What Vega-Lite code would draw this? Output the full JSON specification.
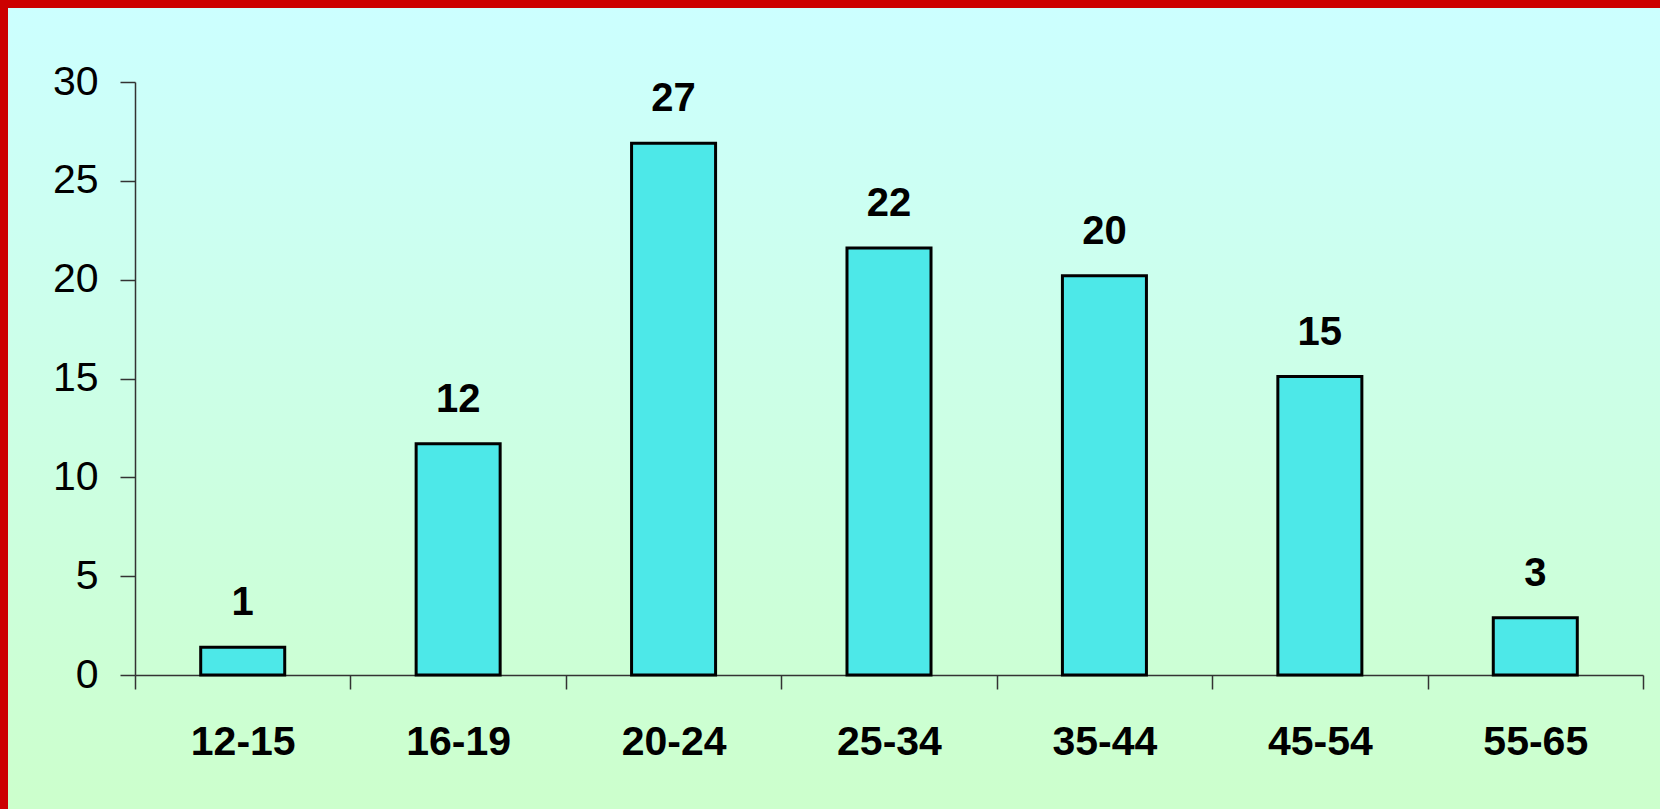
{
  "$schema": "https://vega.github.io/schema/vega-lite/v6.json",
  "width": 1652,
  "height": 801,
  "autosize": {"type": "none"},
  "padding": {"left": 8, "top": 8, "right": 0, "bottom": 0},
  "background": "#cc0000",
  "config": {
    "view": {
      "stroke": null,
      "fill": {
        "gradient": "linear",
        "x1": 0, "y1": 0, "x2": 0, "y2": 1,
        "stops": [
          {"offset": 0, "color": "#ccffff"},
          {"offset": 1, "color": "#ccffcc"}
        ]
      }
    }
  },
  "data": {
    "values": [
      {"age": "12-15", "value": 1.4, "label": "1"},
      {"age": "16-19", "value": 11.7, "label": "12"},
      {"age": "20-24", "value": 26.9, "label": "27"},
      {"age": "25-34", "value": 21.6, "label": "22"},
      {"age": "35-44", "value": 20.2, "label": "20"},
      {"age": "45-54", "value": 15.1, "label": "15"},
      {"age": "55-65", "value": 2.9, "label": "3"}
    ]
  },
  "encoding": {
    "x": {
      "field": "age",
      "type": "nominal",
      "sort": null,
      "scale": {"range": [127, 1635], "paddingInner": 0, "paddingOuter": 0},
      "axis": {
        "title": null,
        "orient": "bottom",
        "offset": -134,
        "tickBand": "extent",
        "labelAngle": 0,
        "tickSize": 14,
        "labelFontSize": 41,
        "labelFontWeight": "bold",
        "labelFont": "Liberation Sans",
        "labelColor": "#000000",
        "labelPadding": 33,
        "domainColor": "#333333",
        "tickColor": "#333333",
        "domainWidth": 1.5,
        "tickWidth": 1.5,
        "grid": false
      }
    },
    "y": {
      "field": "value",
      "type": "quantitative",
      "scale": {"domain": [0, 30], "range": [667, 74], "nice": false},
      "axis": {
        "title": null,
        "offset": -127,
        "values": [0, 5, 10, 15, 20, 25, 30],
        "tickSize": 15,
        "labelFontSize": 41,
        "labelFont": "Liberation Sans",
        "labelColor": "#000000",
        "labelPadding": 22,
        "domainColor": "#333333",
        "tickColor": "#333333",
        "domainWidth": 1.5,
        "tickWidth": 1.5,
        "grid": false
      }
    }
  },
  "layer": [
    {
      "mark": {"type": "bar", "width": {"band": 0.39}, "fill": "#4de8e8", "stroke": "#000000", "strokeWidth": 3}
    },
    {
      "mark": {"type": "text", "baseline": "alphabetic", "dy": -32, "fontSize": 40, "fontWeight": "bold", "font": "Liberation Sans", "color": "#000000"},
      "encoding": {"text": {"field": "label"}}
    }
  ]
}
